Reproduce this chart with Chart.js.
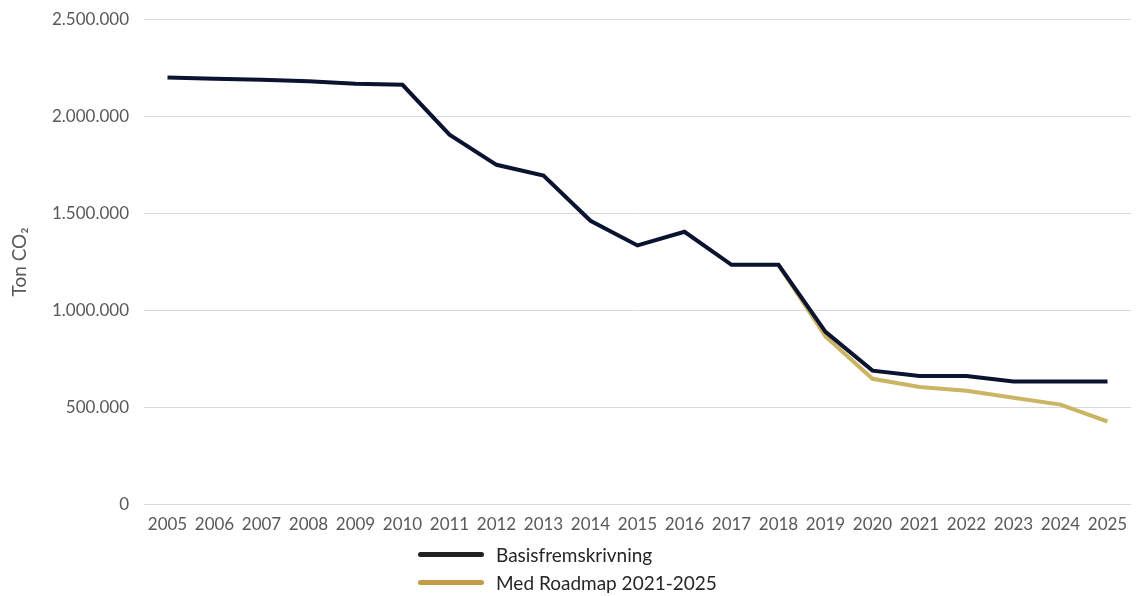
<!DOCTYPE html>
<html>
<head>
<meta charset="utf-8">
<script src="https://cdn.jsdelivr.net/npm/chart.js@4.4.0/dist/chart.umd.min.js"></script>
<style>
  body { margin: 0; background: #fff; font-family: Lato, sans-serif; }
  #wrap { position: relative; width: 1137px; height: 596px; overflow: hidden; }
  #chartBox { position: absolute; left: 0; top: -6px; width: 1137px; height: 549px; }
  #legend { position: absolute; left: 418px; top: 540px; font-size: 19px; color: #262626; }
  .item { display: flex; align-items: center; height: 28px; }
  .swatch { width: 66px; height: 5px; border-radius: 3px; margin-right: 12px; }
</style>
</head>
<body>
<div id="wrap">
  <div id="chartBox"><canvas id="myChart"></canvas></div>
  <div id="legend"></div>
</div>
<script>
let years = ['2005','2006','2007','2008','2009','2010','2011','2012','2013','2014','2015',
             '2016','2017','2018','2019','2020','2021','2022','2023','2024','2025'];

// Basisfremskrivning
let basis = [2200000, 2193000, 2188000, 2180000, 2168000, 2162000, 1905000, 1750000, 1695000, 1462000, 1335000,
             1405000, 1235000, 1235000, 890000, 690000, 662000, 662000, 634000, 634000, 634000];

// Med Roadmap 2021-2025 (hidden under basis until 2018)
let roadmap = [null, null, null, null, null, null, null, null, null, null, null,
               null, null, 1235000, 866000, 648000, 606000, 586000, 550000, 515000, 428000];

let seriesNames = ['Basisfremskrivning', 'Med Roadmap 2021-2025'];
let lineColors = ['#0a1330', '#cbb462'];
let legendColors = ['#222222', '#c49c48'];

function formatNum(v) {
    return String(v).replace(/\B(?=(\d{3})+(?!\d))/g, '.');
}

const ctx = document.getElementById('myChart');
const co2Chart = new Chart(ctx, {
    type: 'line',
    data: {
        labels: years,
        datasets: [{
            label: seriesNames[0],
            data: basis,
            borderColor: lineColors[0],
            borderWidth: 4,
            pointRadius: 0,
            tension: 0,
            order: 1
        }, {
            label: seriesNames[1],
            data: roadmap,
            borderColor: lineColors[1],
            borderWidth: 4,
            pointRadius: 0,
            tension: 0,
            order: 2
        }]
    },
    options: {
        responsive: true,
        maintainAspectRatio: false,
        animation: false,
        layout: { padding: { top: 2, right: 6, left: 8, bottom: 6 } },
        plugins: {
            legend: { display: false },
            tooltip: { enabled: false }
        },
        scales: {
            x: {
                offset: true,
                grid: { display: false },
                border: { display: false },
                ticks: {
                    color: '#595959',
                    font: { family: 'Lato', size: 17 },
                    maxRotation: 0,
                    autoSkip: false,
                    padding: 2
                }
            },
            y: {
                min: 0,
                max: 2500000,
                afterFit: function(axis) { axis.width = 136; },
                grid: { color: '#d9d9d9', lineWidth: 1, drawTicks: false },
                border: { display: false },
                ticks: {
                    stepSize: 500000,
                    color: '#595959',
                    padding: 15,
                    font: { family: 'Lato', size: 17 },
                    callback: function(value) { return formatNum(value); }
                },
                title: {
                    display: true,
                    text: 'Ton CO₂',
                    color: '#595959',
                    font: { family: 'Lato', size: 19 },
                    padding: { top: 0, bottom: 0 }
                }
            }
        }
    }
});

// legend below the chart, one row per series
let legendBox = document.getElementById('legend');
for (let i = 0; i < seriesNames.length; i++) {
    let row = document.createElement('div');
    row.className = 'item';
    let sw = document.createElement('span');
    sw.className = 'swatch';
    sw.style.background = legendColors[i];
    let txt = document.createElement('span');
    txt.textContent = seriesNames[i];
    row.appendChild(sw);
    row.appendChild(txt);
    legendBox.appendChild(row);
}
</script>
</body>
</html>
